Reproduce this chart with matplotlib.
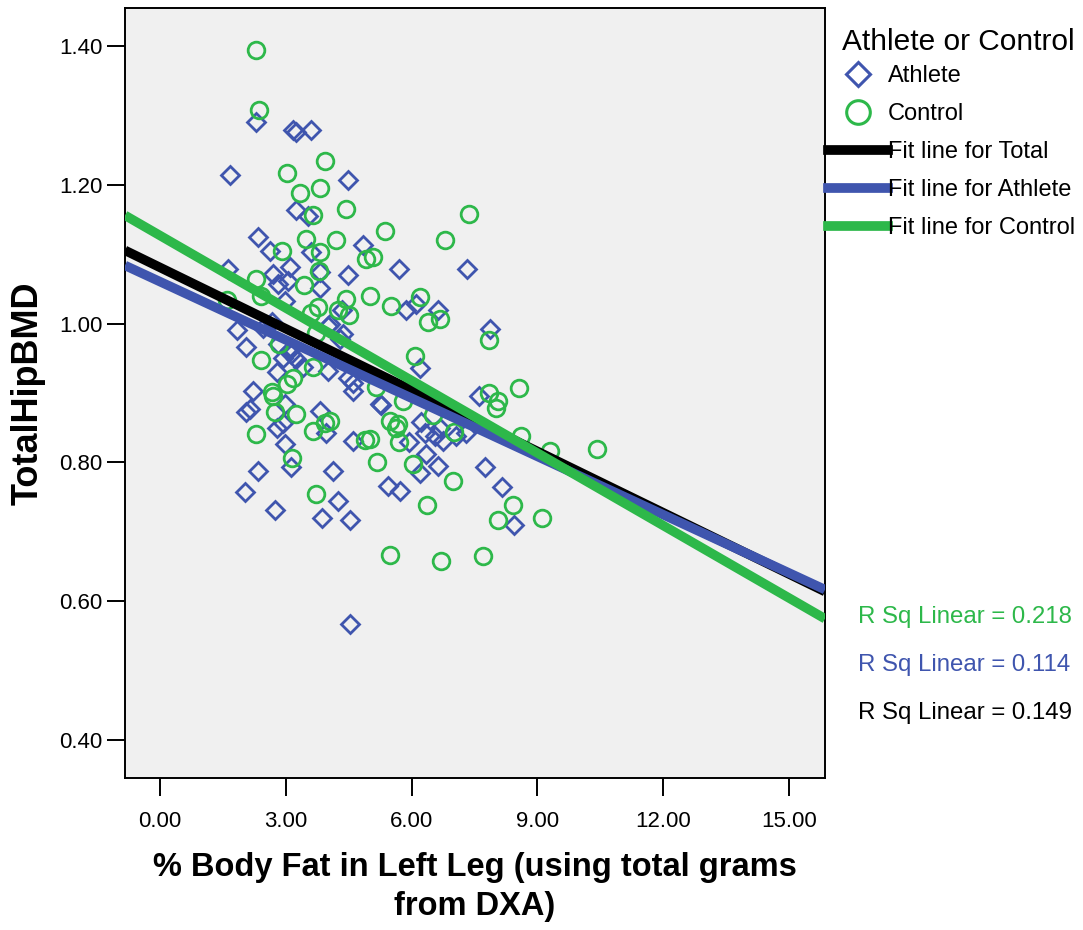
import numpy as np
import matplotlib
matplotlib.use("Agg")
import matplotlib.pyplot as plt
from matplotlib.lines import Line2D

plt.rcParams['font.family'] = ['Liberation Sans', 'DejaVu Sans']

# Athlete (diamonds): % body fat left leg, total hip BMD
ath_x = [2.30, 3.17, 3.24, 3.59, 1.67, 4.48, 3.25, 3.53, 2.34, 4.83, 2.62, 3.61,
         1.63, 2.70, 3.10, 2.82, 3.06, 3.81, 3.81, 4.48, 2.98, 4.33, 1.83, 2.05,
         2.46, 2.94, 3.13, 3.25, 2.78, 3.41, 4.01, 4.60, 2.22, 2.98, 2.06, 2.14,
         3.81, 2.78, 2.94, 3.97, 4.60, 2.98, 2.34, 4.13, 3.13, 2.02, 4.25, 2.74,
         3.87, 4.52, 4.52, 5.71, 7.32, 6.11, 5.87, 6.63, 7.86, 6.19, 5.25, 7.60,
         6.23, 6.31, 6.55, 6.67, 6.75, 7.06, 7.30, 5.95, 6.35, 6.63, 6.19, 7.74,
         5.44, 5.73, 8.15, 8.45, 4.05, 4.37, 2.66, 4.01, 4.29, 4.48, 4.60, 5.28,
         2.82, 3.10]
ath_y = [1.291, 1.279, 1.276, 1.279, 1.214, 1.207, 1.164, 1.155, 1.125, 1.114, 1.105, 1.103,
         1.079, 1.072, 1.081, 1.057, 1.062, 1.074, 1.052, 1.070, 1.033, 1.019, 0.991, 0.966,
         0.994, 0.951, 0.956, 0.949, 0.930, 0.937, 0.932, 0.915, 0.903, 0.884, 0.872, 0.877,
         0.874, 0.850, 0.857, 0.843, 0.831, 0.826, 0.788, 0.788, 0.793, 0.758, 0.744, 0.731,
         0.720, 0.717, 0.567, 1.079, 1.079, 1.028, 1.020, 1.019, 0.992, 0.936, 0.884, 0.895,
         0.858, 0.843, 0.838, 0.850, 0.831, 0.838, 0.843, 0.830, 0.812, 0.795, 0.785, 0.793,
         0.766, 0.759, 0.765, 0.710, 0.999, 0.985, 1.002, 0.997, 0.978, 0.922, 0.903, 0.882,
         0.971, 0.962]

# Control (circles)
con_x = [2.30, 2.35, 3.94, 3.02, 3.81, 3.33, 3.64, 4.43, 3.49, 4.19, 2.90, 3.81,
         4.92, 5.08, 5.36, 7.36, 6.80, 2.30, 3.79, 3.44, 2.40, 1.60, 4.43, 5.02,
         3.77, 3.61, 4.25, 4.51, 2.84, 2.42, 3.65, 3.17, 3.02, 2.66, 2.70, 2.74,
         3.25, 3.93, 4.05, 3.64, 2.29, 4.90, 3.14, 5.18, 3.73, 5.50, 6.19, 6.40,
         6.67, 7.84, 6.07, 5.16, 5.79, 8.57, 7.84, 8.05, 8.02, 6.51, 5.49, 5.67,
         7.02, 5.71, 5.00, 8.61, 9.31, 10.42, 6.03, 6.98, 6.37, 8.43, 8.07, 9.10,
         5.48, 6.71, 7.71, 3.73, 5.63]
con_y = [1.394, 1.308, 1.234, 1.217, 1.195, 1.188, 1.156, 1.165, 1.122, 1.121, 1.105, 1.103,
         1.093, 1.096, 1.134, 1.158, 1.120, 1.065, 1.076, 1.056, 1.040, 1.034, 1.036, 1.040,
         1.024, 1.016, 1.020, 1.013, 0.971, 0.948, 0.937, 0.922, 0.913, 0.901, 0.896, 0.872,
         0.870, 0.857, 0.860, 0.845, 0.841, 0.832, 0.807, 0.801, 0.755, 1.026, 1.039, 1.003,
         1.007, 0.977, 0.954, 0.908, 0.889, 0.907, 0.900, 0.889, 0.879, 0.869, 0.860, 0.855,
         0.844, 0.829, 0.833, 0.838, 0.817, 0.819, 0.797, 0.773, 0.738, 0.739, 0.717, 0.720,
         0.667, 0.658, 0.665, 0.987, 0.850]

# fit lines (intercept, slope) and R^2
fit_names = ['Total', 'Athlete', 'Control']
fit_b = [1.081, 1.0605, 1.127]
fit_m = [-0.02946, -0.02799, -0.03483]
rsq = [0.149, 0.114, 0.218]

BLUE = '#3F55AE'
GREEN = '#2DB84A'
colors = ['black', BLUE, GREEN]

fig = plt.figure(figsize=(10.83, 9.30), dpi=100)
ax = fig.add_axes([125/1083, 1-778/930, 700/1083, 770/930])
ax.set_facecolor('#F0F0F0')

ax.plot(ath_x, ath_y, ls='none', marker='D', ms=9.3, mfc='none', mec=BLUE, mew=2.0, zorder=2)
ax.plot(con_x, con_y, ls='none', marker='o', ms=12, mfc='none', mec=GREEN, mew=2.0, zorder=2)

for b, m, c in zip(fit_b, fit_m, colors):
    ax.axline((0, b), slope=m, color=c, lw=6.8, solid_capstyle='butt', zorder=3)

ax.set_xlim(-0.835, 15.86)
ax.set_ylim(0.345, 1.455)
ax.set_xticks(np.arange(0, 15.1, 3))
ax.set_yticks(np.arange(0.4, 1.41, 0.2))
ax.xaxis.set_major_formatter(matplotlib.ticker.FormatStrFormatter('%.2f'))
ax.yaxis.set_major_formatter(matplotlib.ticker.FormatStrFormatter('%.2f'))
ax.tick_params(length=13, width=1.4, labelsize=16, pad=3)
ax.tick_params(axis='x', pad=11)
for s in ax.spines.values():
    s.set_linewidth(1.4)

ax.set_xlabel('% Body Fat in Left Leg (using total grams\nfrom DXA)', fontsize=23.5,
              fontweight='bold', labelpad=14, linespacing=1.35)
ax.set_ylabel('TotalHipBMD', fontsize=26, fontweight='bold', labelpad=10)

# legend
fig.text(842/1083, 1-42/930, 'Athlete or Control', fontsize=21.5, va='center', ha='left')
handles = [Line2D([], [], ls='none', marker='D', ms=12.5, mfc='none', mec=BLUE, mew=2.2),
           Line2D([], [], ls='none', marker='o', ms=17, mfc='none', mec=GREEN, mew=2.2),
           Line2D([], [], color='black', lw=7),
           Line2D([], [], color=BLUE, lw=7),
           Line2D([], [], color=GREEN, lw=7)]
labels = ['Athlete', 'Control'] + ['Fit line for ' + n for n in fit_names]
leg = fig.legend(handles, labels, loc='upper left',
                 bbox_to_anchor=(828/1083, 1-65/930), frameon=False, fontsize=17,
                 handlelength=2.55, handletextpad=0.0,
                 labelspacing=0.68, borderpad=0, borderaxespad=0)

for i, (r, c) in enumerate(zip(rsq[::-1], colors[::-1])):
    fig.text(858/1083, 1-(617+48*i)/930, 'R Sq Linear = %.3f' % r, color=c,
             fontsize=17.3, va='center', ha='left')

fig.savefig('out.png', dpi=100)
